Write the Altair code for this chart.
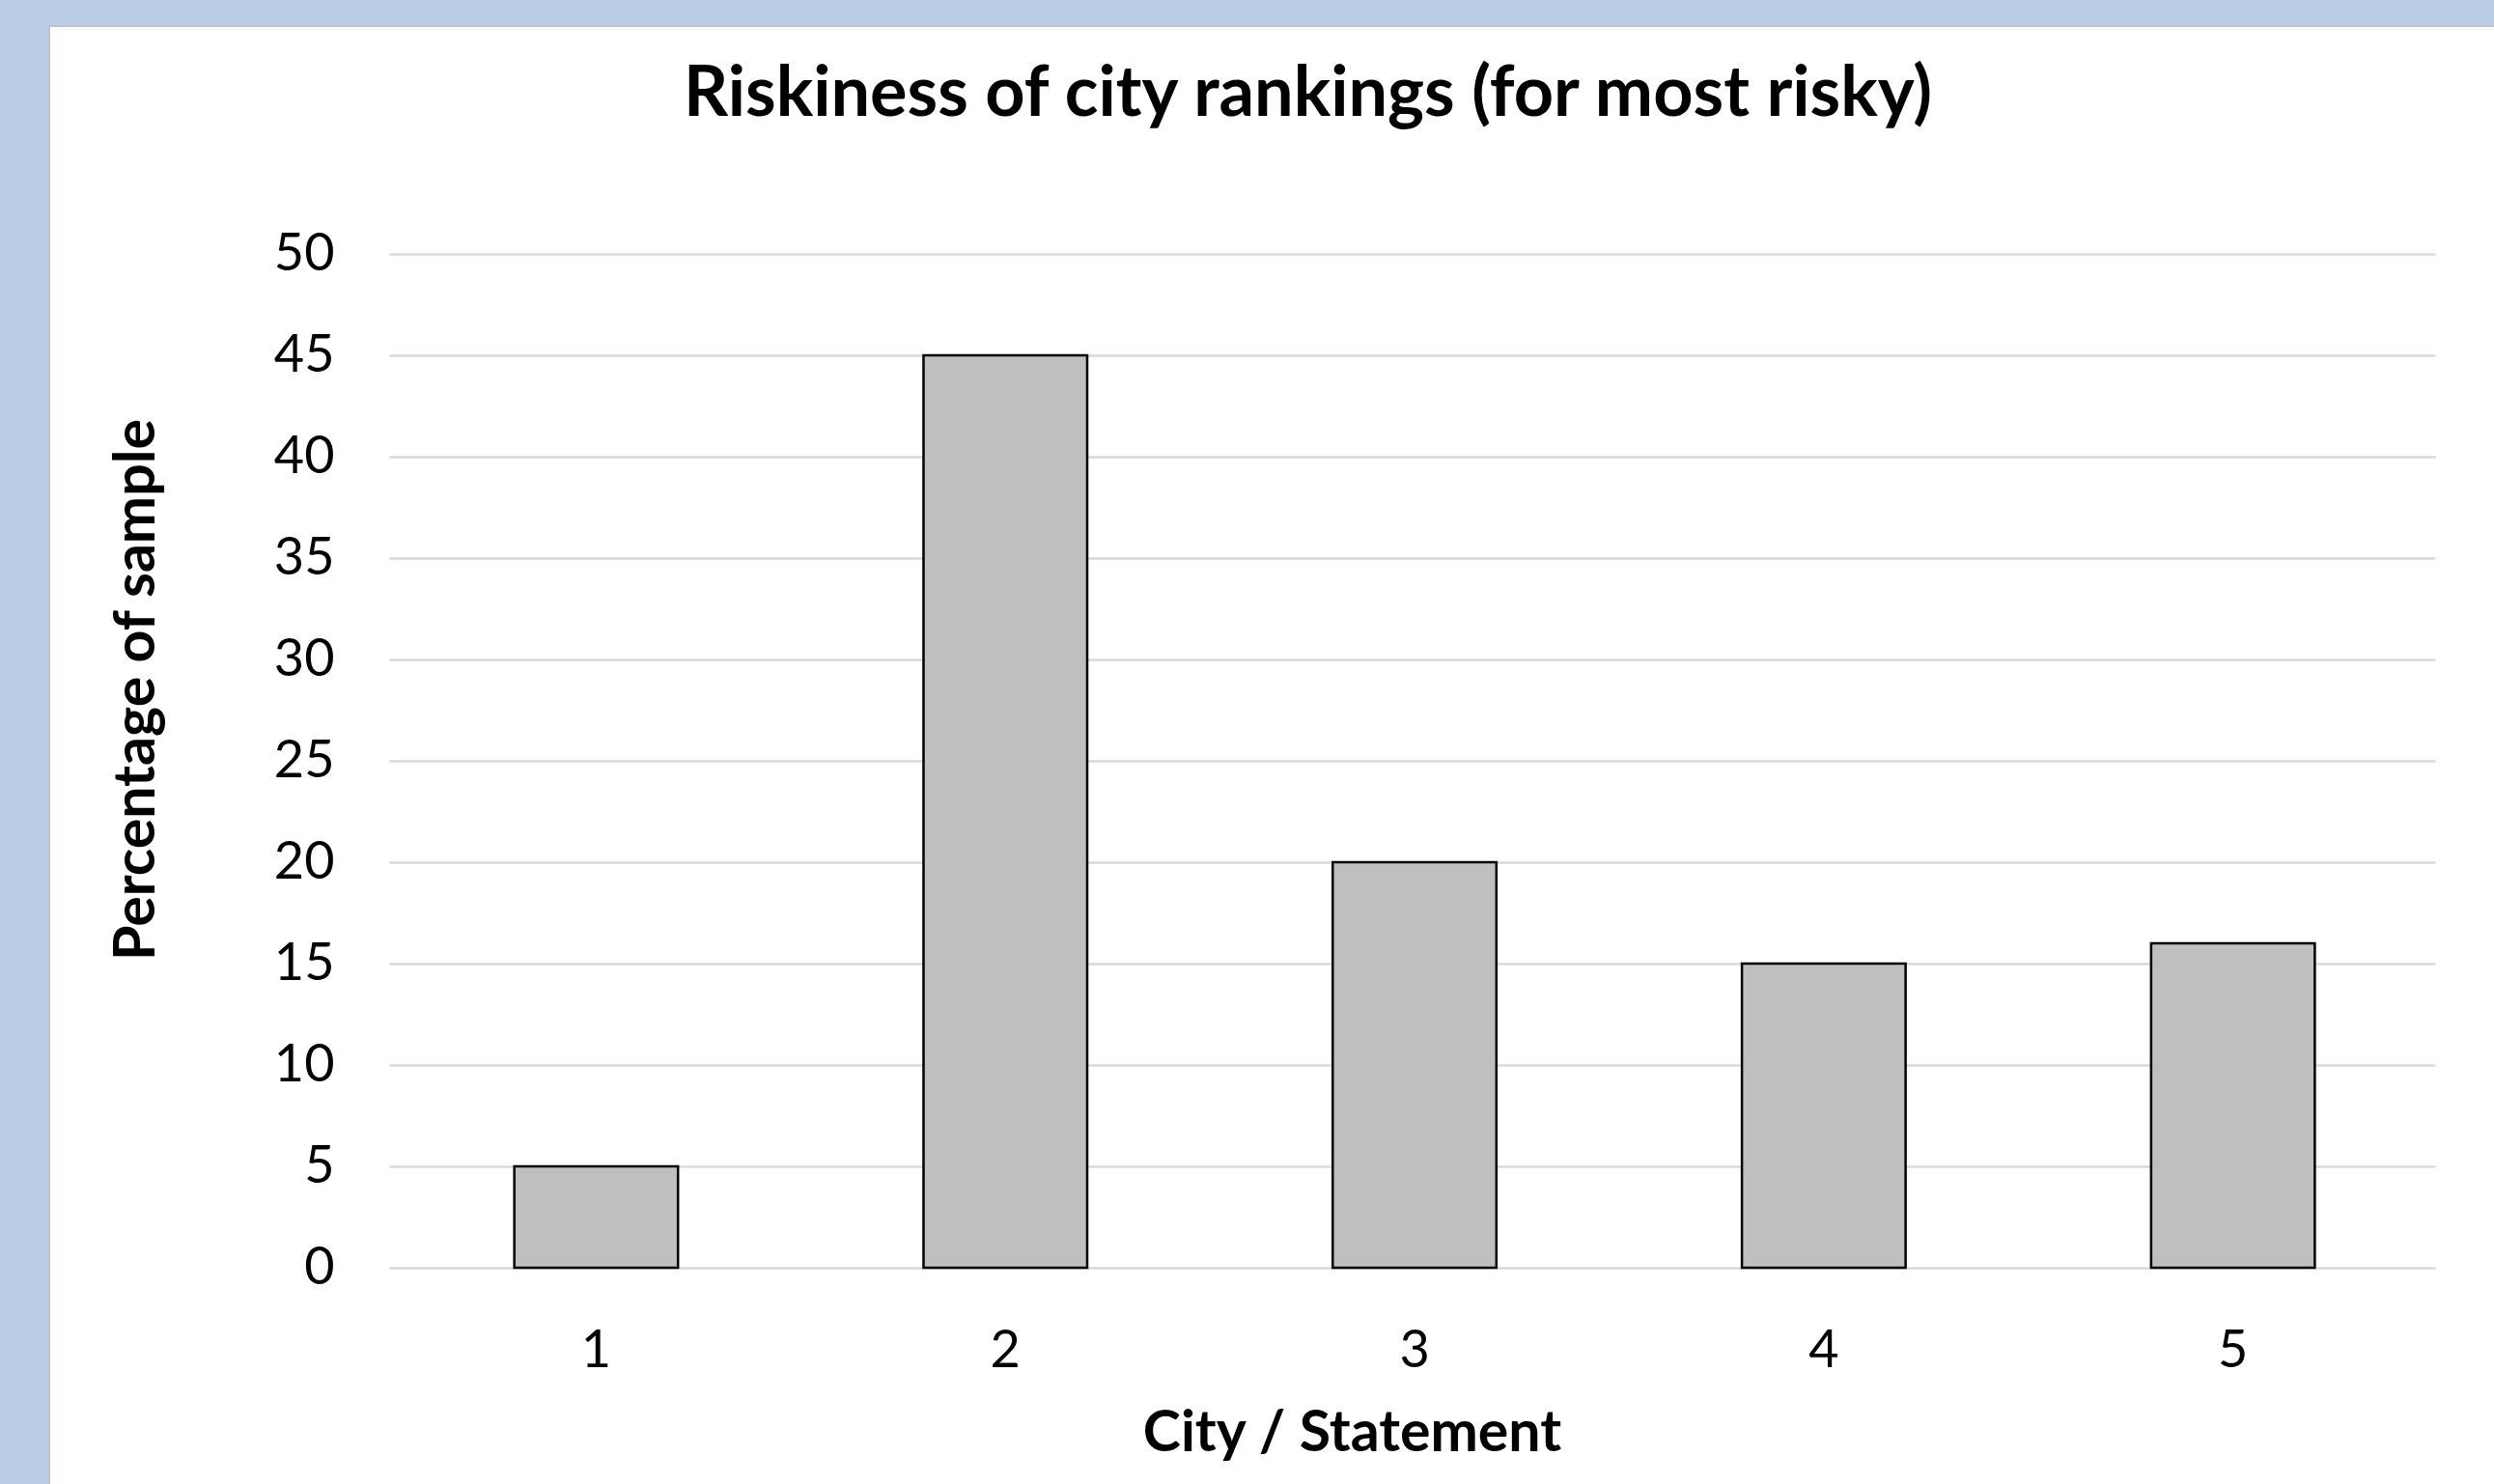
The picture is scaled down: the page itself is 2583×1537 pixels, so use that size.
import altair as alt
import pandas as pd

# Survey results: share of respondents picking each city/statement as most risky
cities = ["1", "2", "3", "4", "5"]
percentages = [5, 45, 20, 15, 16]
y_ticks = [0, 5, 10, 15, 20, 25, 30, 35, 40, 45, 50]

df = pd.DataFrame({"city": cities, "pct": percentages})

FONT = "Lato"
W, H = 2119, 1050          # plot area
PAD_L, PAD_T, PAD_R, PAD_B = 403, 263, 61, 224
FRAME_BLUE = "#b9cde5"
EDGE_GRAY = "#c3c3c3"

base = alt.Chart(df)

bars = base.mark_bar(
    fill="#bfbfbf", stroke="#000000", strokeWidth=2.5
).encode(
    x=alt.X(
        "city:N",
        sort=cities,
        scale=alt.Scale(paddingInner=0.6, paddingOuter=0.3, align=0.51),
        axis=alt.Axis(
            title="City / Statement",
            labelAngle=0,
            labelFont=FONT,
            labelFontSize=54,
            labelColor="#000000",
            labelPadding=59,
            ticks=False,
            domain=False,
            grid=False,
            titleFont=FONT,
            titleFontSize=59,
            titleFontWeight="bold",
            titleColor="#000000",
            titleX=997,
            titleY=171,
            titleAlign="center",
            titleBaseline="middle",
        ),
    ),
    y=alt.Y(
        "pct:Q",
        scale=alt.Scale(domain=[0, 50], nice=False),
        axis=alt.Axis(
            title="Percentage of sample",
            values=y_ticks,
            labelFont=FONT,
            labelFontSize=54,
            labelColor="#000000",
            labelPadding=57,
            ticks=False,
            domain=False,
            grid=True,
            gridColor="#d9d9d9",
            gridWidth=2.5,
            titleFont=FONT,
            titleFontSize=59,
            titleFontWeight="bold",
            titleColor="#000000",
            titleAngle=270,
            titleX=-262,
            titleY=451,
            titleAlign="center",
            titleBaseline="middle",
        ),
    ),
)

# Blue frame strips around the white chart area, with a thin gray edge
frame_src = alt.Data(values=[{"k": 0}])
top_strip = alt.Chart(frame_src).mark_rect(fill=FRAME_BLUE).encode(
    x=alt.value(-PAD_L), x2=alt.value(W + PAD_R),
    y=alt.value(-PAD_T), y2=alt.value(27 - PAD_T),
)
left_strip = alt.Chart(frame_src).mark_rect(fill=FRAME_BLUE).encode(
    x=alt.value(-PAD_L), x2=alt.value(51 - PAD_L),
    y=alt.value(-PAD_T), y2=alt.value(H + PAD_B),
)
top_edge = alt.Chart(frame_src).mark_rule(color=EDGE_GRAY, strokeWidth=2).encode(
    x=alt.value(51 - PAD_L), x2=alt.value(W + PAD_R),
    y=alt.value(27 - PAD_T),
)
left_edge = alt.Chart(frame_src).mark_rule(color=EDGE_GRAY, strokeWidth=2).encode(
    x=alt.value(51 - PAD_L),
    y=alt.value(27 - PAD_T), y2=alt.value(H + PAD_B),
)

# The title sits relative to the top of the frame (canvas top), so dy sets its baseline
chart = alt.layer(
    bars, top_strip, left_strip, top_edge, left_edge
).properties(
    width=W,
    height=H,
    title=alt.TitleParams(
        "Riskiness of city rankings (for most risky)",
        font=FONT,
        fontSize=72,
        fontWeight="bold",
        color="#000000",
        anchor="middle",
        dx=-108,
        dy=192,
        baseline="alphabetic",
        offset=0,
    ),
    autosize=alt.AutoSizeParams(type="none"),
    padding={"left": PAD_L, "top": PAD_T, "right": PAD_R, "bottom": PAD_B},
    background="#ffffff",
).configure_view(stroke=None)

chart.save("out.html", embed_options={"renderer": "svg", "actions": False})
